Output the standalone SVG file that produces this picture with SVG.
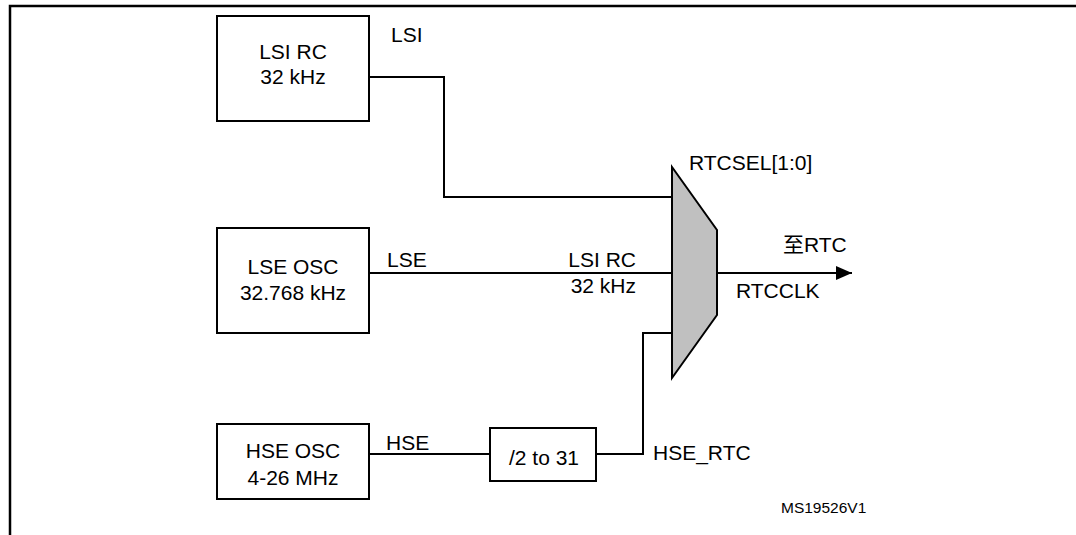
<svg xmlns="http://www.w3.org/2000/svg" width="1076" height="535" viewBox="0 0 1076 535">
<defs>
<style>
text{font-family:"Liberation Sans","Noto Sans CJK SC",Arial,sans-serif;font-size:21px;fill:#000}
.c{text-anchor:middle}
.box{fill:#fff;stroke:#000;stroke-width:2}
.wire{fill:none;stroke:#000;stroke-width:2}
.small{font-size:15.5px}
</style>
<marker id="arr" viewBox="0 0 16 14" refX="16" refY="7" markerWidth="16" markerHeight="14" markerUnits="userSpaceOnUse" orient="auto">
<path d="M0,0 L16,7 L0,14 Z" fill="#000"/>
</marker>
</defs>
<rect width="1076" height="535" fill="#fff"/>
<g id="frame">
<path d="M10,535 V6 H1076" fill="none" stroke="#000" stroke-width="2.5"/>
</g>
<g id="connectors">
<path class="wire" d="M369,77 H444 V197 H672"/>
<path class="wire" d="M369,273 H672"/>
<path class="wire" d="M369,454 H490"/>
<path class="wire" d="M596,454 H643 V333 H672"/>
<path class="wire" d="M717,273 H852" marker-end="url(#arr)"/>
</g>
<g id="lsi">
<rect class="box" x="217" y="16" width="152" height="105"/>
<text class="c" x="293" y="59">LSI RC</text>
<text class="c" x="293" y="84">32 kHz</text>
</g>
<g id="lse">
<rect class="box" x="217" y="228" width="152" height="105"/>
<text class="c" x="293" y="274">LSE OSC</text>
<text class="c" x="293" y="300">32.768 kHz</text>
</g>
<g id="hse">
<rect class="box" x="217" y="424" width="152" height="75"/>
<text class="c" x="293" y="458">HSE OSC</text>
<text class="c" x="293" y="485">4-26 MHz</text>
</g>
<g id="div">
<rect class="box" x="490" y="428" width="106" height="53"/>
<text class="c" x="544" y="465">/2 to 31</text>
</g>
<g id="mux">
<path d="M672,167 L717,230 V315 L672,378 Z" fill="#c0c0c0" stroke="#000" stroke-width="2"/>
<text x="689" y="170">RTCSEL[1:0]</text>
</g>
<g id="labels">
<text x="391" y="42">LSI</text>
<text x="387" y="267">LSE</text>
<text x="636" y="267" text-anchor="end">LSI RC</text>
<text x="636" y="293" text-anchor="end">32 kHz</text>
<text x="386" y="450">HSE</text>
<text x="653" y="460">HSE_RTC</text>
<text x="783" y="252">至RTC</text>
<text x="736" y="298">RTCCLK</text>
<text class="small" x="781" y="513">MS19526V1</text>
</g>
</svg>
